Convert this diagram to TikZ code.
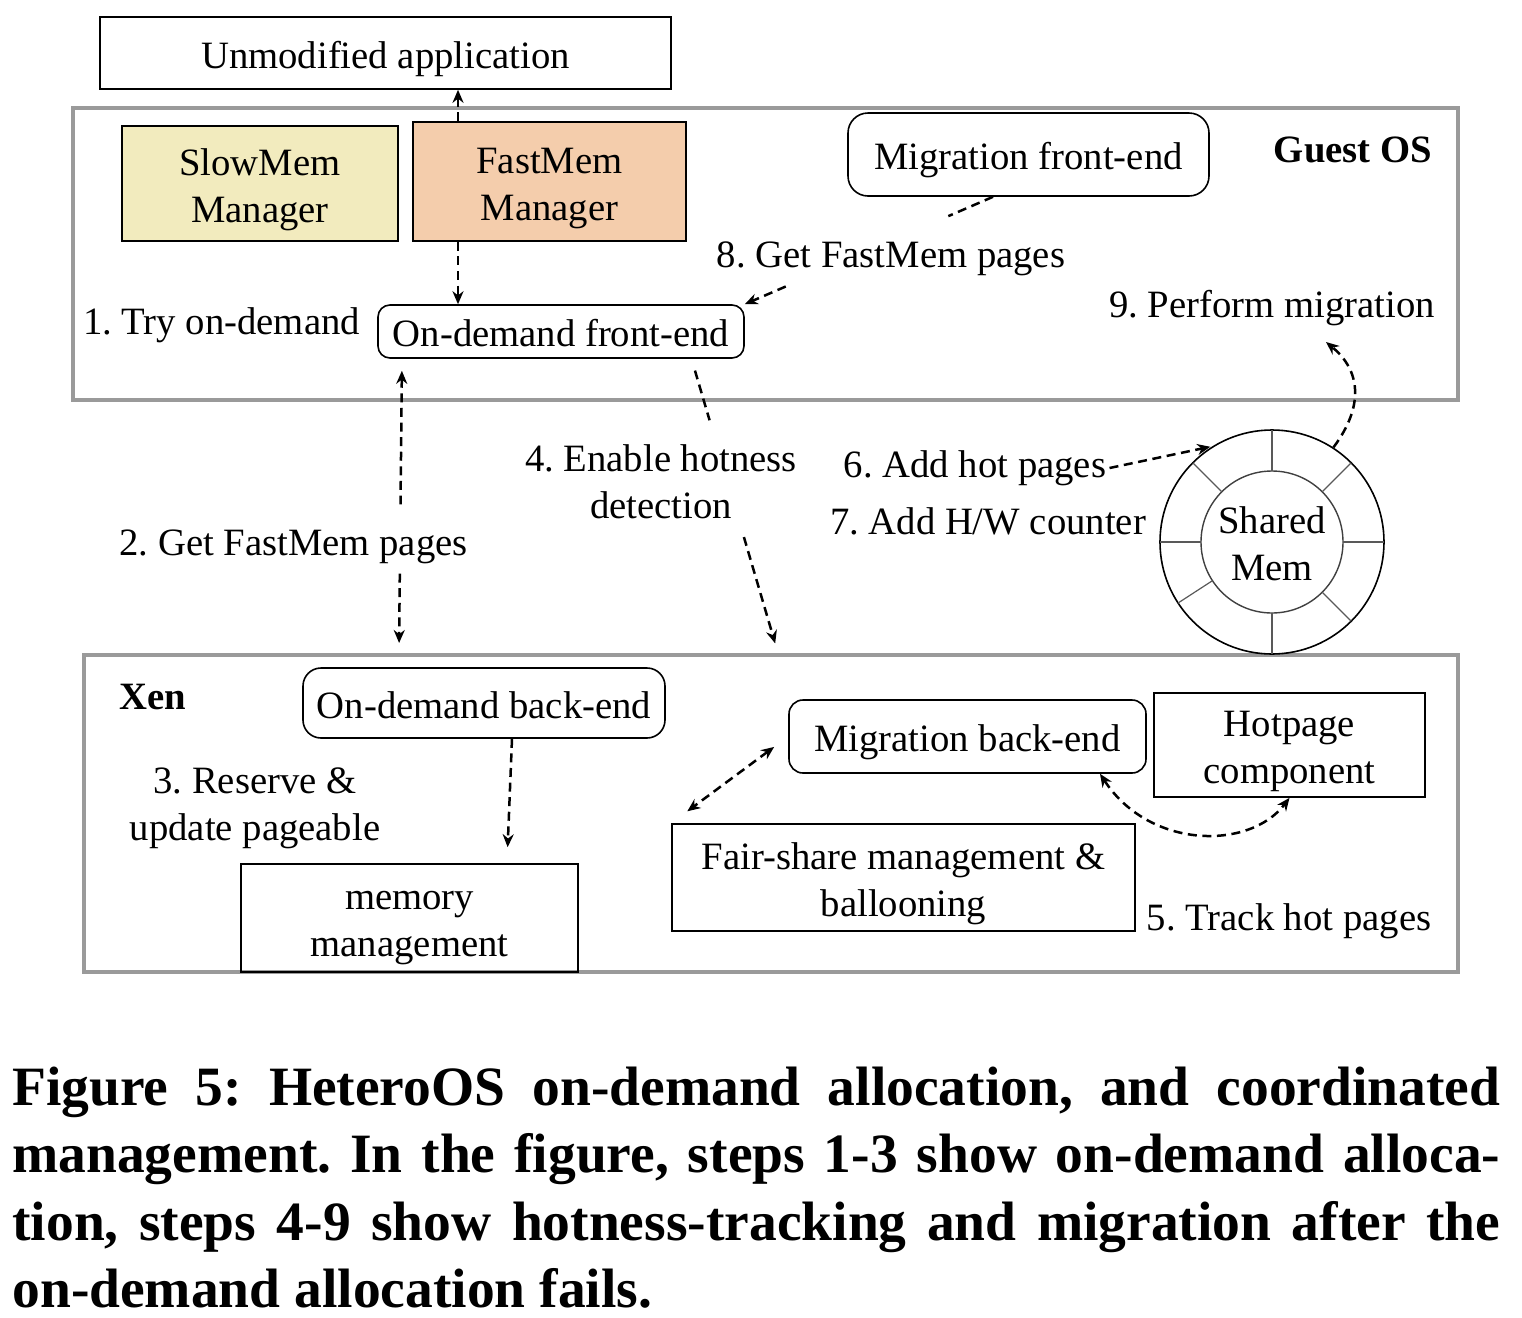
\documentclass[tikz,border=0pt]{standalone}
\usepackage{fontspec}
\setmainfont{Liberation Serif}
\usetikzlibrary{arrows.meta,calc}
\definecolor{slowc}{HTML}{F2EBBE}
\definecolor{fastc}{HTML}{F4CDAC}
\definecolor{regc}{HTML}{9A9A9A}
\frenchspacing
\newcommand\dfont{\fontsize{19.35pt}{23.5pt}\selectfont}
\newcommand\capfont{\fontsize{27.75pt}{34pt}\selectfont\bfseries}
\newcommand\bt[1]{\raisebox{-2.8pt}[\height][\depth]{\begin{tabular}{@{}c@{}}#1\end{tabular}}}
\begin{document}
\begin{tikzpicture}[x=0.5pt,y=-0.5pt,
  box/.style={draw, line width=0.8pt, inner sep=0pt, font=\dfont},
  rbox/.style={box, rounded corners=7pt},
  region/.style={draw=regc, line width=2pt, inner sep=0pt},
  lbl/.style={inner sep=0pt, align=center, font=\dfont, yshift=-2pt},
  lblb/.style={inner sep=0pt, font=\dfont\bfseries},
  dsh/.style={line width=1.25pt, dash pattern=on 4.5pt off 2.8pt, >={Stealth[length=6.5pt,width=5.5pt]}},
  captxt/.style={inner sep=0pt, font=\capfont, anchor=base west}]
\useasboundingbox (0,0) rectangle (1522,1318);

% regions
\node[region, minimum width=692.5pt, minimum height=146pt] (guest) at (765.5,254) {};
\node[region, minimum width=687pt, minimum height=158.5pt] (xen) at (771,813.5) {};
\node[lblb] (gos) at (1353,150) {Guest OS};
\node[lblb] (xenl) at (153,697) {Xen};

% boxes
\node[box, minimum width=285.5pt, minimum height=36pt] (app) at (385.5,53) {\bt{Unmodified application}};
\node[box, fill=slowc, minimum width=138pt, minimum height=57.5pt] (slow) at (260,183.5) {\bt{SlowMem\\Manager}};
\node[box, fill=fastc, minimum width=136.5pt, minimum height=59.5pt] (fast) at (549.5,181.5) {\bt{FastMem\\Manager}};
\node[rbox, rounded corners=10pt, minimum width=180.5pt, minimum height=41.5pt] (migfe) at (1028.5,154.5) {\bt{Migration front-end}};
\node[rbox, rounded corners=6pt, minimum width=183pt, minimum height=26.5pt] (odfe) at (561,331.5) {\bt{On-demand front-end}};
\node[rbox, rounded corners=9pt, minimum width=181pt, minimum height=35pt] (odbe) at (484,703) {\bt{On-demand back-end}};
\node[box, minimum width=168.5pt, minimum height=54pt] (mem) at (409.5,918) {\bt{memory\\management}};
\node[rbox, minimum width=178.5pt, minimum height=36.5pt] (migbe) at (967.5,736.5) {\bt{Migration back-end}};
\node[box, minimum width=135.5pt, minimum height=52pt] (hot) at (1289.5,745) {\bt{Hotpage\\component}};
\node[box, minimum width=231.5pt, minimum height=53.5pt] (fair) at (903.5,877.5) {\bt{Fair-share management \&\\ballooning}};

% shared memory ring
\node[circle, draw, line width=0.8pt, minimum size=112pt, inner sep=0pt, font=\dfont] (shm) at (1272,542) {\bt{Shared\\Mem}};
\draw[line width=0.7pt, black!75] (shm.center) circle[radius=35.5pt];
\foreach \a in {90,45,0,-45,-90,135,180,213}
  \draw[line width=0.6pt, black!65] (shm.center) ++(\a:35.5pt) -- ++(\a:20.5pt);

% labels
\node[lbl] (l1) at (221.5,321) {1. Try on-demand};
\node[lbl] (l2) at (293.5,543) {2. Get FastMem pages};
\node[lbl] (l3) at (255,804) {3. Reserve \&\\update pageable};
\node[lbl] (l4) at (661,478) {4. Enable hotness\\detection};
\node[lbl] (l5) at (1289,917) {5. Track hot pages};
\node[lbl] (l6) at (975,464) {6. Add hot pages};
\node[lbl] (l7) at (988,517) {7. Add H/W counter};
\node[lbl] (l8) at (891,255) {8. Get FastMem pages};
\node[lbl] (l9) at (1272,304) {9. Perform migration};

% connectors
\draw[dsh,->] ([xshift=-45.75pt]fast.north) -- ([xshift=36.25pt]app.south);
\draw[dsh,->] ([xshift=-45.75pt]fast.south) -- ([xshift=-51.5pt]odfe.north);

\coordinate (a8) at ([xshift=-17.75pt]migfe.south);
\coordinate (b8) at (odfe.north east);
\draw[dsh] (a8) -- ($(a8)!0.18!(b8)$);
\draw[dsh,->] ($(a8)!0.835!(b8)$) -- (b8);

\coordinate (a2) at ([xshift=-79.5pt]odfe.south);
\coordinate (b2) at ([xshift=-186pt]xen.north);
\draw[dsh,<-,shorten <=6pt] (a2) -- ($(a2)!0.495!(b2)$);
\draw[dsh,->,shorten >=5pt] ($(a2)!0.73!(b2)$) -- (b2);

\coordinate (a4) at ([xshift=65.25pt]odfe.south);
\coordinate (b4) at ([xshift=3.5pt]xen.north);
\draw[dsh] ($(a4)!0.04!(b4)$) -- ($(a4)!0.209!(b4)$);
\draw[dsh,->,shorten >=5pt] ($(a4)!0.606!(b4)$) -- (b4);

\draw[dsh,->,shorten >=1pt] ([xshift=1.5pt]l6.east) -- (shm.122);
\coordinate (t9) at (1326,342);
\draw[dsh,->] (shm.57) .. controls (1365,405) and (1360,370) .. (t9);

\draw[dsh,->,shorten >=8pt] ([xshift=14pt]odbe.south) -- ([xshift=48.75pt]mem.north);
\draw[dsh,<->,shorten <=8.75pt,shorten >=10pt] (migbe.west) -- (fair.north west);
\draw[dsh,<->] ([xshift=66.25pt]migbe.south) .. controls (1150,850) and (1250,850) .. (hot.south);

% caption
\node[captxt] (c1) at (12,1105) {\makebox[744pt][s]{Figure 5: HeteroOS on-demand allocation, and coordinated}};
\node[captxt] (c2) at (12,1172) {\makebox[744pt][s]{management. In the figure, steps 1-3 show on-demand alloca-}};
\node[captxt] (c3) at (12,1240) {\makebox[744pt][s]{tion, steps 4-9 show hotness-tracking and migration after the}};
\node[captxt] (c4) at (12,1307) {on-demand allocation fails.};
\end{tikzpicture}
\end{document}
